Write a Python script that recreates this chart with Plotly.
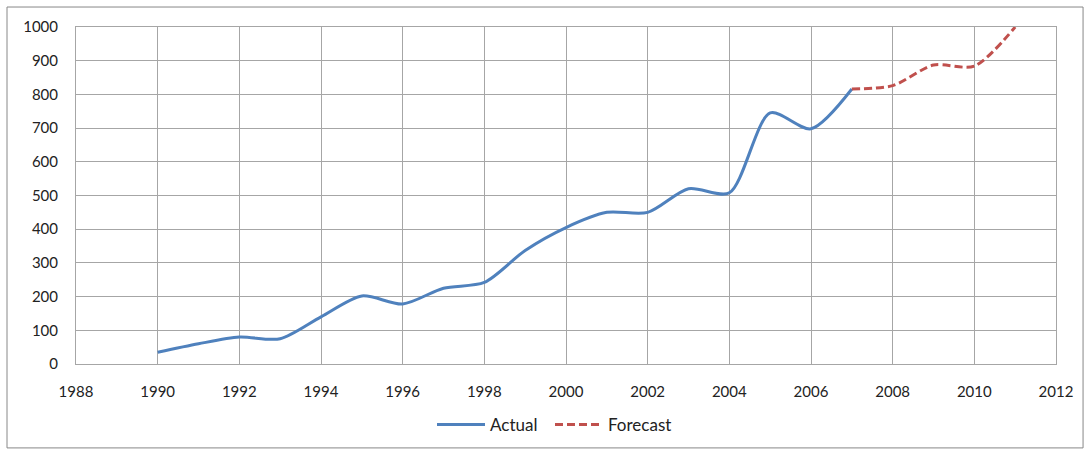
import plotly.graph_objects as go

actual_years = [1990, 1991, 1992, 1993, 1994, 1995, 1996, 1997, 1998, 1999,
                2000, 2001, 2002, 2003, 2004, 2005, 2006, 2007]
actual_values = [35, 60, 80, 75, 140, 202, 178, 225, 242, 337,
                 405, 450, 450, 520, 508, 745, 698, 816]
forecast_years = [2007, 2008, 2009, 2010, 2011]
forecast_values = [816, 826, 887, 884, 1000]

x_ticks = list(range(1988, 2013, 2))
y_ticks = list(range(0, 1001, 100))

font_family = "Lato, 'Open Sans', sans-serif"

fig = go.Figure()
fig.add_trace(go.Scatter(
    x=actual_years, y=actual_values, name="Actual", mode="lines",
    line=dict(color="#4F81BD", width=3, shape="spline", smoothing=0.8),
    legend="legend",
))
fig.add_trace(go.Scatter(
    x=forecast_years, y=forecast_values, name="Forecast", mode="lines",
    line=dict(color="#C0504D", width=3, dash="8px,4px", shape="spline", smoothing=0.8),
    legend="legend2",
))

grid = "#A6A6A6"
legend_common = dict(orientation="h", xref="container", yref="container",
                     xanchor="left", y=1 - 425 / 450, yanchor="middle",
                     font=dict(size=17), itemwidth=48, bgcolor="rgba(0,0,0,0)")
fig.update_layout(
    width=1084, height=450,
    margin=dict(l=76, r=28, t=27, b=86, autoexpand=False),
    paper_bgcolor="white", plot_bgcolor="white",
    font=dict(family=font_family, size=15, color="#222222"),
    showlegend=True,
    legend=dict(x=432 / 1084, **legend_common),
    legend2=dict(x=550 / 1084, **legend_common),
    xaxis=dict(range=[1988, 2012], tickvals=x_ticks, showgrid=True, gridcolor=grid,
               gridwidth=1, zeroline=False, showline=True, linecolor=grid, mirror=True,
               ticks="", ticklabelstandoff=14, fixedrange=True),
    yaxis=dict(range=[0, 1000], tickvals=y_ticks, showgrid=True, gridcolor=grid,
               gridwidth=1, zeroline=False, showline=True, linecolor=grid, mirror=True,
               ticks="", ticklabelstandoff=14, fixedrange=True),
    shapes=[dict(type="rect", xref="paper", yref="paper",
                 x0=-0.0704, x1=1.0276, y0=-0.249, y1=1.0593,
                 line=dict(color="#888888", width=1), layer="below")],
)

fig.write_html("out.html")
